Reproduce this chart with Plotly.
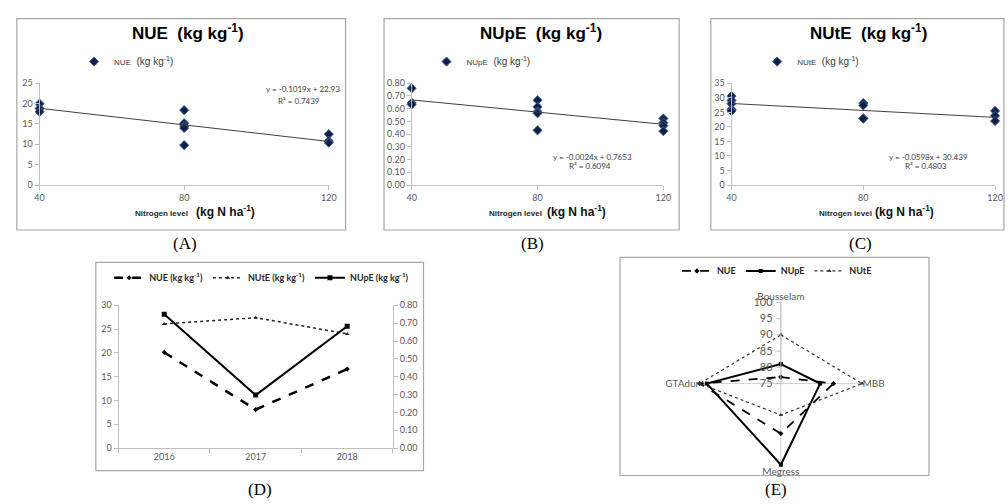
import plotly.graph_objects as go

W, H = 1008, 504
def fx(p): return p / W
def fy(p): return 1 - p / H

# ---------------- data ----------------
n_levels = [40, 80, 120]

nue_40 = [20.0, 18.8, 18.0]
nue_80 = [18.4, 15.2, 14.5, 14.0, 9.8]
nue_120 = [12.5, 10.8, 10.4]

nupe_40 = [0.76, 0.646, 0.633]
nupe_80 = [0.667, 0.615, 0.577, 0.564, 0.43]
nupe_120 = [0.523, 0.49, 0.467, 0.423]

nute_40 = [30.6, 29.1, 28.0, 26.0, 25.5]
nute_80 = [28.2, 27.4, 23.0, 22.8]
nute_120 = [25.5, 23.8, 22.0]

trend_slope = [-0.1019, -0.0024, -0.0598]
trend_icpt = [22.93, 0.7653, 30.439]
trend_eq = ["y = -0.1019x + 22.93", "y = -0.0024x + 0.7653", "y = -0.0598x + 30.439"]
trend_r2 = ["R² = 0.7439", "R² = 0.6094", "R² = 0.4803"]

years = ["2016", "2017", "2018"]
d_nue = [20.1, 8.1, 16.6]
d_nute = [26.1, 27.4, 24.0]
d_nupe = [0.75, 0.297, 0.683]

genotypes = ["Bousselam", "MBB", "Megress", "GTAdur"]
e_nue = [77.0, 91.2, 90.4, 100.0]
e_nupe = [81.0, 87.1, 100.0, 97.8]
e_nute = [90.0, 100.0, 84.7, 100.0]

# --------------- styles ---------------
GRAY_LINE = "#bfbfbf"
TICK_FONT = dict(family="Lato", size=9, color="#595959")
MK = dict(symbol="diamond", size=7, color="#0f1f45", line=dict(color="#3d5f99", width=1))

fig = go.Figure()

def expand(xs, groups):
    X, Y = [], []
    for x, g in zip(xs, groups):
        X += [x] * len(g)
        Y += g
    return X, Y

scatter_sets = [
    ("NUE", [nue_40, nue_80, nue_120], "x", "y", "legend"),
    ("NUpE", [nupe_40, nupe_80, nupe_120], "x2", "y2", "legend2"),
    ("NUtE", [nute_40, nute_80, nute_120], "x3", "y3", "legend3"),
]
for i, (nm, groups, xa, ya, lg) in enumerate(scatter_sets):
    X, Y = expand(n_levels, groups)
    fig.add_trace(go.Scatter(x=X, y=Y, mode="markers", marker=MK, cliponaxis=False,
                             name=f"<span style='font-size:8px'>{nm}</span>  (kg kg<sup>-1</sup>)",
                             xaxis=xa, yaxis=ya, legend=lg, showlegend=True))
    tx = [n_levels[0], n_levels[-1]]
    ty = [trend_slope[i] * v + trend_icpt[i] for v in tx]
    fig.add_trace(go.Scatter(x=tx, y=ty, mode="lines", line=dict(color="#404040", width=1),
                             xaxis=xa, yaxis=ya, showlegend=False, cliponaxis=False))

# Panel D
fig.add_trace(go.Scatter(x=years, y=d_nue, mode="lines+markers", name="<b>NUE (kg kg<sup>-1</sup>)</b>",
                         line=dict(color="black", width=2.5, dash="dash"),
                         marker=dict(symbol="diamond", size=4, color="black"),
                         xaxis="x4", yaxis="y4", legend="legend4"))
fig.add_trace(go.Scatter(x=years, y=d_nute, mode="lines+markers", name="<b>NUtE (kg kg<sup>-1</sup>)</b>",
                         line=dict(color="#222", width=1.5, dash="dot"),
                         marker=dict(symbol="triangle-up", size=4, color="#222"),
                         xaxis="x4", yaxis="y4", legend="legend4"))
fig.add_trace(go.Scatter(x=years, y=d_nupe, mode="lines+markers", name="<b>NUpE (kg kg<sup>-1</sup>)</b>",
                         line=dict(color="black", width=2),
                         marker=dict(symbol="square", size=5, color="black"),
                         xaxis="x4", yaxis="y5", legend="legend4"))

# Panel E radar
th = genotypes + [genotypes[0]]
fig.add_trace(go.Scatterpolar(r=e_nue + [e_nue[0]], theta=th, mode="lines+markers", name="<b>NUE</b>",
                              line=dict(color="black", width=1.8, dash="dash"),
                              marker=dict(symbol="diamond", size=4, color="black"),
                              subplot="polar", legend="legend5", cliponaxis=False))
fig.add_trace(go.Scatterpolar(r=e_nupe + [e_nupe[0]], theta=th, mode="lines+markers", name="<b>NUpE</b>",
                              line=dict(color="black", width=2),
                              marker=dict(symbol="square", size=4, color="black"),
                              subplot="polar", legend="legend5", cliponaxis=False))
fig.add_trace(go.Scatterpolar(r=e_nute + [e_nute[0]], theta=th, mode="lines+markers", name="<b>NUtE</b>",
                              line=dict(color="#333", width=1.2, dash="dot"),
                              marker=dict(symbol="triangle-up", size=4, color="#333"),
                              subplot="polar", legend="legend5", cliponaxis=False))

def xax(dom, **kw):
    d = dict(domain=dom, showline=True, linecolor=GRAY_LINE, linewidth=1, ticks="outside",
             ticklen=4, tickcolor=GRAY_LINE, tickfont=TICK_FONT, showgrid=False, zeroline=False)
    d.update(kw)
    return d

yA = [fy(183), fy(79)]
RAD = 83
layout = dict(
    width=W, height=H, margin=dict(l=0, r=0, t=0, b=0),
    paper_bgcolor="white", plot_bgcolor="rgba(0,0,0,0)",
    xaxis=xax([fx(35), fx(328)], range=[40, 120], tickvals=n_levels, anchor="y"),
    yaxis=xax(yA, range=[0, 25], dtick=5, anchor="x"),
    xaxis2=xax([fx(412), fx(667)], range=[40, 120], tickvals=n_levels, anchor="y2"),
    yaxis2=xax(yA, range=[0, 0.8], dtick=0.1, tickformat=".2f", anchor="x2"),
    xaxis3=xax([fx(736), fx(1003)], range=[40, 120], tickvals=n_levels, anchor="y3"),
    yaxis3=xax(yA, range=[0, 35], dtick=5, anchor="x3"),
    xaxis4=xax([fx(115), fx(393)], type="category", range=[-0.5, 2.5], tickson="boundaries", anchor="y4"),
    yaxis4=xax([fy(452), fy(306)], range=[0, 30], dtick=5, anchor="x4"),
    yaxis5=xax([fy(452), fy(306)], range=[0, 0.8], dtick=0.1, tickformat=".2f",
               overlaying="y4", side="right", anchor="x4"),
    polar=dict(
        domain=dict(x=[fx(786 - RAD), fx(786 + RAD)], y=[fy(386 + RAD), fy(386 - RAD)]),
        bgcolor="rgba(0,0,0,0)",
        radialaxis=dict(range=[75, 100], angle=90, tickvals=[75, 80, 85, 90, 95, 100],
                        showgrid=False, showline=True, linecolor=GRAY_LINE, ticks="outside",
                        ticklen=4, tickcolor=GRAY_LINE, side="counterclockwise", tickangle=90,
                        tickfont=dict(family="Lato", size=11, color="#595959")),
        angularaxis=dict(rotation=90, direction="clockwise", showgrid=True, gridcolor="#d0d0d0",
                         showline=False, ticks="",
                         tickfont=dict(family="Lato", size=10, color="#595959")),
    ),
    showlegend=True,
)

leg_common = dict(bgcolor="rgba(0,0,0,0)", itemwidth=30, tracegroupgap=0)
layout["legend"] = dict(x=fx(70), y=fy(42), xanchor="left", yanchor="top",
                        font=dict(family="Liberation Sans", size=10, color="#404040"), **leg_common)
layout["legend2"] = dict(x=fx(427), y=fy(42), xanchor="left", yanchor="top",
                         font=dict(family="Liberation Sans", size=10, color="#404040"), **leg_common)
layout["legend3"] = dict(x=fx(762), y=fy(42), xanchor="left", yanchor="top",
                         font=dict(family="Liberation Sans", size=10, color="#404040"), **leg_common)
layout["legend4"] = dict(x=fx(260), y=fy(263), xanchor="center", yanchor="top", orientation="h",
                         font=dict(family="Lato", size=9, color="#262626"), **leg_common)
layout["legend5"] = dict(x=fx(782), y=fy(256), xanchor="center", yanchor="top", orientation="h",
                         font=dict(family="Lato", size=9, color="#262626"), **leg_common)

fig.update_layout(**layout)

# boxes
boxes = [(12, 13, 345, 229), (384, 13, 683, 229), (715, 13, 1012, 229),
         (92, 262, 424, 475), (623, 257, 936, 480)]
for x0, y0, x1, y1 in boxes:
    fig.add_shape(type="rect", xref="paper", yref="paper", x0=fx(x0), x1=fx(x1), y0=fy(y1), y1=fy(y0),
                  line=dict(color="#a6a6a6", width=1.2), fillcolor="rgba(0,0,0,0)", layer="below")

ann = []
def A(x, y, text, size, family="Liberation Sans", color="black", **kw):
    d = dict(x=fx(x), y=fy(y), xref="paper", yref="paper", text=text, showarrow=False,
             font=dict(family=family, size=size, color=color), xanchor="center", yanchor="middle")
    d.update(kw)
    ann.append(d)

titles = ["NUE", "NUpE", "NUtE"]
tx_pos = [185, 543, 875]
for t, x in zip(titles, tx_pos):
    A(x, 27, f"<b>{t}  (kg kg<sup>-1</sup>)</b>", 17)

for xn, xu in [(159, 223), (517, 579), (851, 911)]:
    A(xn, 212, "<b>Nitrogen level</b>", 8, color="#262626")
    A(xu, 210, "<b>(kg N ha<sup>-1</sup>)</b>", 12, color="#111")

eq_pos = [(302, 85, 298, 97), (595, 154, 593, 164), (936, 154, 933, 164)]
for (ex, ey, rx, ry), e, r in zip(eq_pos, trend_eq, trend_r2):
    A(ex, ey, e, 8, family="Lato", color="#404040")
    A(rx, ry, r, 8, family="Lato", color="#404040")

for lab, x, y in [("(A)", 182, 243), ("(B)", 534, 243), ("(C)", 867, 243), ("(D)", 258, 494), ("(E)", 781, 494)]:
    A(x, y, lab, 17, family="Liberation Serif")

fig.update_layout(annotations=ann)
fig.write_html("out.html", post_script="document.body.style.margin='0';",
               config={"displayModeBar": False})
